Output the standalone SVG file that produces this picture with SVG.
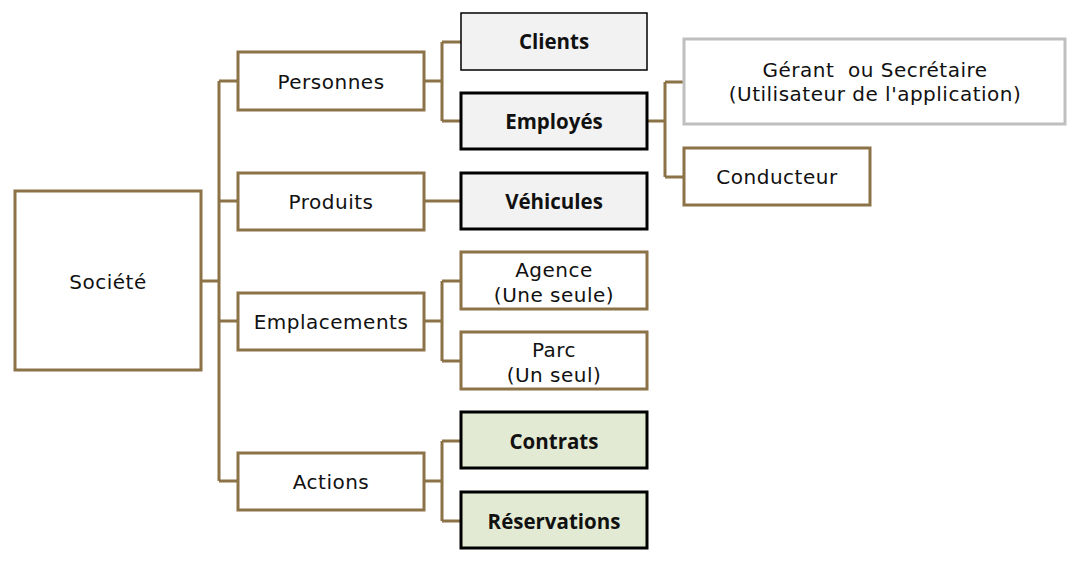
<svg xmlns="http://www.w3.org/2000/svg" width="1082" height="565" viewBox="0 0 1082 565">
<style>
.b{fill:#ffffff;stroke:#8b7247;stroke-width:3}
.g{fill:#ffffff;stroke:#bfbfbf;stroke-width:3}
.c1{fill:#f2f2f2;stroke:#000000;stroke-width:1.5}
.c2{fill:#f2f2f2;stroke:#000000;stroke-width:3}
.v{fill:#e3ead3;stroke:#000000;stroke-width:3}
.t{font-family:"DejaVu Sans","Liberation Sans",sans-serif;font-size:20px;letter-spacing:0.5px;fill:#111111;text-anchor:middle}
.tb{font-family:"Open Sans","Liberation Sans",sans-serif;font-size:20.5px;font-weight:bold;fill:#111111;text-anchor:middle}
.ln{fill:none;stroke:#8b7247;stroke-width:3}
</style>
<rect width="1082" height="565" fill="#ffffff"/>
<g id="connectors">
<path class="ln" d="M201 281H219M219 81V481M219 81H238M219 201H238M219 321H238M219 481H238"/>
<path class="ln" d="M424 81H442M442 42V121M442 42H461M442 121H461"/>
<path class="ln" d="M424 201H461"/>
<path class="ln" d="M424 321H442M442 281V361M442 281H461M442 361H461"/>
<path class="ln" d="M424 481H442M442 441V521M442 441H461M442 521H461"/>
<path class="ln" d="M647 121H665M665 82V177M665 82H684M665 177H684"/>
</g>
<g id="societe"><rect class="b" x="15" y="191" width="186" height="179"/><text class="t" x="108" y="289">Société</text></g>
<g id="personnes"><rect class="b" x="238" y="52" width="186" height="58"/><text class="t" x="331" y="89">Personnes</text></g>
<g id="produits"><rect class="b" x="238" y="173" width="186" height="57"/><text class="t" x="331" y="209">Produits</text></g>
<g id="emplacements"><rect class="b" x="238" y="293" width="186" height="57"/><text class="t" x="331" y="329">Emplacements</text></g>
<g id="actions"><rect class="b" x="238" y="453" width="186" height="57"/><text class="t" x="331" y="489">Actions</text></g>
<g id="clients"><rect class="c1" x="461" y="13" width="186" height="57"/><text class="tb" x="554" y="49">Clients</text></g>
<g id="employes"><rect class="c2" x="461" y="93" width="186" height="56"/><text class="tb" x="554" y="129">Employés</text></g>
<g id="vehicules"><rect class="c2" x="461" y="173" width="186" height="56"/><text class="tb" x="554" y="209">Véhicules</text></g>
<g id="agence"><rect class="b" x="461" y="252" width="186" height="57"/><text class="t" x="554" y="277">Agence</text><text class="t" x="554" y="302">(Une seule)</text></g>
<g id="parc"><rect class="b" x="461" y="332" width="186" height="57"/><text class="t" x="554" y="357">Parc</text><text class="t" x="554" y="382">(Un seul)</text></g>
<g id="contrats"><rect class="v" x="461" y="412" width="186" height="56"/><text class="tb" x="554" y="449">Contrats</text></g>
<g id="reservations"><rect class="v" x="461" y="492" width="186" height="56"/><text class="tb" x="554" y="529">Réservations</text></g>
<g id="gerant"><rect class="g" x="684" y="39" width="381" height="85"/><text class="t" x="875" y="77" xml:space="preserve">Gérant  ou Secrétaire</text><text class="t" x="875" y="101">(Utilisateur de l'application)</text></g>
<g id="conducteur"><rect class="b" x="684" y="148" width="186" height="57"/><text class="t" x="777" y="184">Conducteur</text></g>
</svg>
